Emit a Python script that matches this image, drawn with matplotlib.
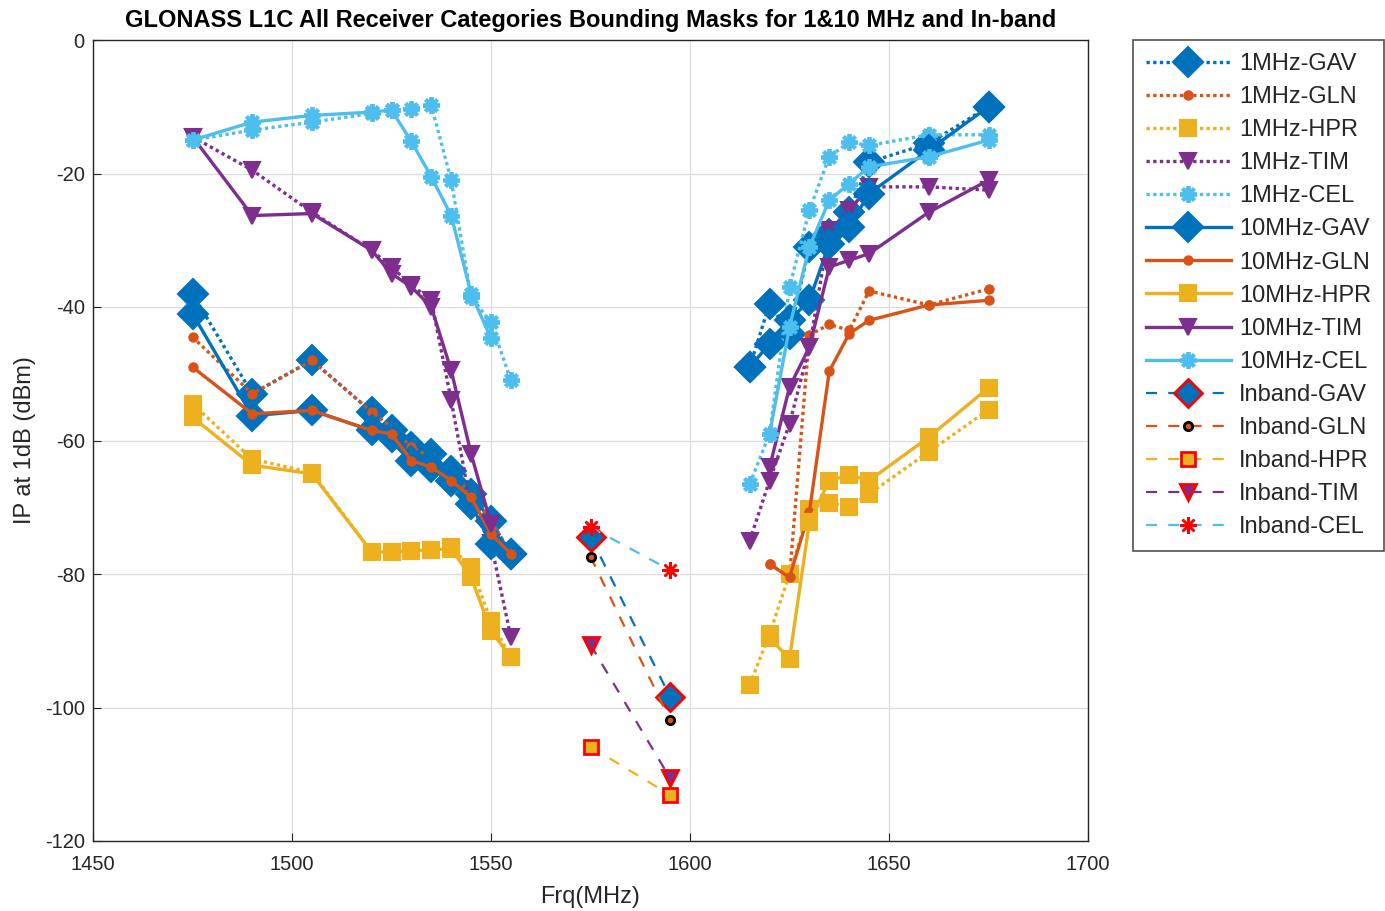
import numpy as np
import matplotlib
matplotlib.use("Agg")
import matplotlib.pyplot as plt

plt.rcParams['font.family'] = ['Liberation Sans', 'DejaVu Sans']
plt.rcParams['axes.unicode_minus'] = False

# Frequencies (MHz)
f_left = [1475, 1490, 1505, 1520, 1525, 1530, 1535, 1540, 1545, 1550, 1555]
f_right = [1615, 1620, 1625, 1630, 1635, 1640, 1645, 1660, 1675]
f_inband = [1575, 1595]

nan = np.nan

# 1 MHz bandwidth interference masks (dBm)
gav_1m_left = [-38, -53, -48, -55.7, -58.5, -61, -62, -64.5, -68, -72, -77]
gav_1m_right = [-49, -39.5, -44, -31, -29, -25.8, -18.3, -15.5, -10]
gln_1m_left = [-44.5, -53, -48, -55.7, -58, -61, -62.5, -65, -68, -72, -77]
gln_1m_right = [nan, -78.5, -80.5, -44.2, -42.6, -43.5, -37.6, -39.7, -37.3]
hpr_1m_left = [-54.5, -62.8, -64.8, -76.7, -76.7, -76.5, -76.4, -76, -79, -87, -92.5]
hpr_1m_right = [-96.6, -89, -80, -70.2, -69.3, -70, -68, -61.7, -55.4]
tim_1m_left = [-14.5, -19.5, -25.8, -31.5, -34, -36.7, -39, -54, -70, -75.4, -89.5]
tim_1m_right = [-75, -66, -57.5, -46, -28.5, -25.5, -22, -22, -22.5]
cel_1m_left = [-15, -13.5, -12.3, -11, -10.5, -10.3, -9.8, -21, -38.5, -42.3, -51]
cel_1m_right = [-66.5, -59, -37, -25.5, -17.5, -15.3, -15.8, -14.2, -14.2]

# 10 MHz bandwidth interference masks (dBm)
gav_10m_left = [-41, -56.3, -55.5, -58.5, -59.5, -63, -64, -66, -69.5, -75.5, -77]
gav_10m_right = [-49, -45.5, -42, -39, -30.5, -28, -23, -16.5, -10]
gln_10m_left = [-49, -56, -55.5, -58.5, -59, -63, -64, -66, -68.5, -74, -77]
gln_10m_right = [nan, -78.5, -80.5, -70.7, -49.6, -44, -42, -39.7, -39]
hpr_10m_left = [-56.5, -63.7, -65, -76.7, -76.7, -76.5, -76.4, -76.2, -80.5, -88.5, -92.5]
hpr_10m_right = [nan, -89.6, -92.7, -72.2, -66, -65.2, -66, -59.5, -52.1]
tim_10m_left = [-14.5, -26.3, -26, -31.5, -35, -37, -40, -49.5, -62, -72.5, nan]
tim_10m_right = [nan, -64, -52, -46, -34, -33, -32, -25.8, -21]
cel_10m_left = [-15, -12.3, -11.3, -10.8, -10.5, -15.2, -20.5, -26.3, -38, -44.7, nan]
cel_10m_right = [nan, -59, -43, -31, -24, -21.5, -19, -17.5, -15]

# In-band masks (dBm)
gav_in = [-74.4, -98.4]
gln_in = [-77.4, -101.9]
hpr_in = [-105.9, -113.1]
tim_in = [-90.6, -110.6]
cel_in = [-73, -79.4]

labels_cat = ['GAV', 'GLN', 'HPR', 'TIM', 'CEL']
colors = ['#0072BD', '#D95319', '#EDB120', '#7E2F8E', '#4DBEEE']
asterisk = (8, 2, 0)
markers = ['D', 'o', 's', 'v', asterisk]
msizes = [15, 6, 11, 12, 12]

left_1m = [gav_1m_left, gln_1m_left, hpr_1m_left, tim_1m_left, cel_1m_left]
right_1m = [gav_1m_right, gln_1m_right, hpr_1m_right, tim_1m_right, cel_1m_right]
left_10m = [gav_10m_left, gln_10m_left, hpr_10m_left, tim_10m_left, cel_10m_left]
right_10m = [gav_10m_right, gln_10m_right, hpr_10m_right, tim_10m_right, cel_10m_right]
inband = [gav_in, gln_in, hpr_in, tim_in, cel_in]

fig = plt.figure(figsize=(13.85, 9.11), dpi=100)
ax = fig.add_axes([93 / 1385, 1 - 841 / 911, 995 / 1385, 801 / 911])

f_all = np.concatenate([f_left, [nan], f_right])


def marker_kw(i, color):
    if markers[i] == asterisk:
        return dict(marker=asterisk, markersize=msizes[i], markeredgecolor=color,
                    markeredgewidth=2.8)
    return dict(marker=markers[i], markersize=msizes[i], markerfacecolor=color,
                markeredgecolor=color, markeredgewidth=1.5)


handles = []
for i, c in enumerate(colors):
    y = np.concatenate([left_1m[i], [nan], right_1m[i]])
    h, = ax.plot(f_all, y, color=c, linestyle=(0, (1, 1)), linewidth=2.4,
                 label='1MHz-' + labels_cat[i], **marker_kw(i, c))
    handles.append(h)

for i, c in enumerate(colors):
    y = np.concatenate([left_10m[i], [nan], right_10m[i]])
    h, = ax.plot(f_all, y, color=c, linestyle='-', linewidth=2.4,
                 label='10MHz-' + labels_cat[i], **marker_kw(i, c))
    handles.append(h)

in_sizes = [14, 6, 10, 12, 12]
for i, c in enumerate(colors):
    if i == 1:
        kw = dict(marker='o', markersize=in_sizes[i], markerfacecolor=c,
                  markeredgecolor='black', markeredgewidth=2)
    elif i == 4:
        kw = dict(marker=asterisk, markersize=in_sizes[i], markeredgecolor='red',
                  markeredgewidth=1.8)
    else:
        kw = dict(marker=markers[i], markersize=in_sizes[i], markerfacecolor=c,
                  markeredgecolor='red', markeredgewidth=2)
    h, = ax.plot(f_inband, inband[i], color=c, linestyle=(0, (5, 5)), linewidth=1.6,
                 label='Inband-' + labels_cat[i], **kw)
    handles.append(h)

ax.set_xlim(1450, 1700)
ax.set_ylim(-120, 0)
ax.set_xticks(np.arange(1450, 1701, 50))
ax.set_yticks(np.arange(-120, 1, 20))
ax.grid(True, color='#DCDCDC', linewidth=0.9)
ax.set_axisbelow(True)
ax.tick_params(direction='in', labelsize=14.5, colors='#262626', length=6, pad=6)
ax.tick_params(axis='x', pad=10)
for s in ax.spines.values():
    s.set_color('#262626')
    s.set_linewidth(1.0)

ax.set_xlabel('Frq(MHz)', fontsize=17, color='#262626', labelpad=9)
ax.set_ylabel('IP at 1dB (dBm)', fontsize=17, color='#262626', labelpad=6)
ax.set_title('GLONASS L1C All Receiver Categories Bounding Masks for 1&10 MHz and In-band',
             fontsize=17, fontweight='bold', color='black', pad=9)

leg = ax.legend(handles=handles, loc='upper left',
                bbox_to_anchor=(1133 / 1385, 1 - 40 / 911),
                bbox_transform=fig.transFigure, fontsize=17, numpoints=1,
                handlelength=3.6, handletextpad=0.35, labelspacing=0.47,
                borderpad=0.55, borderaxespad=0, frameon=True, fancybox=False)
leg.get_frame().set_edgecolor('#262626')
leg.get_frame().set_linewidth(1.2)
for t in leg.get_texts():
    t.set_color('#262626')

fig.savefig('out.png', dpi=100)
